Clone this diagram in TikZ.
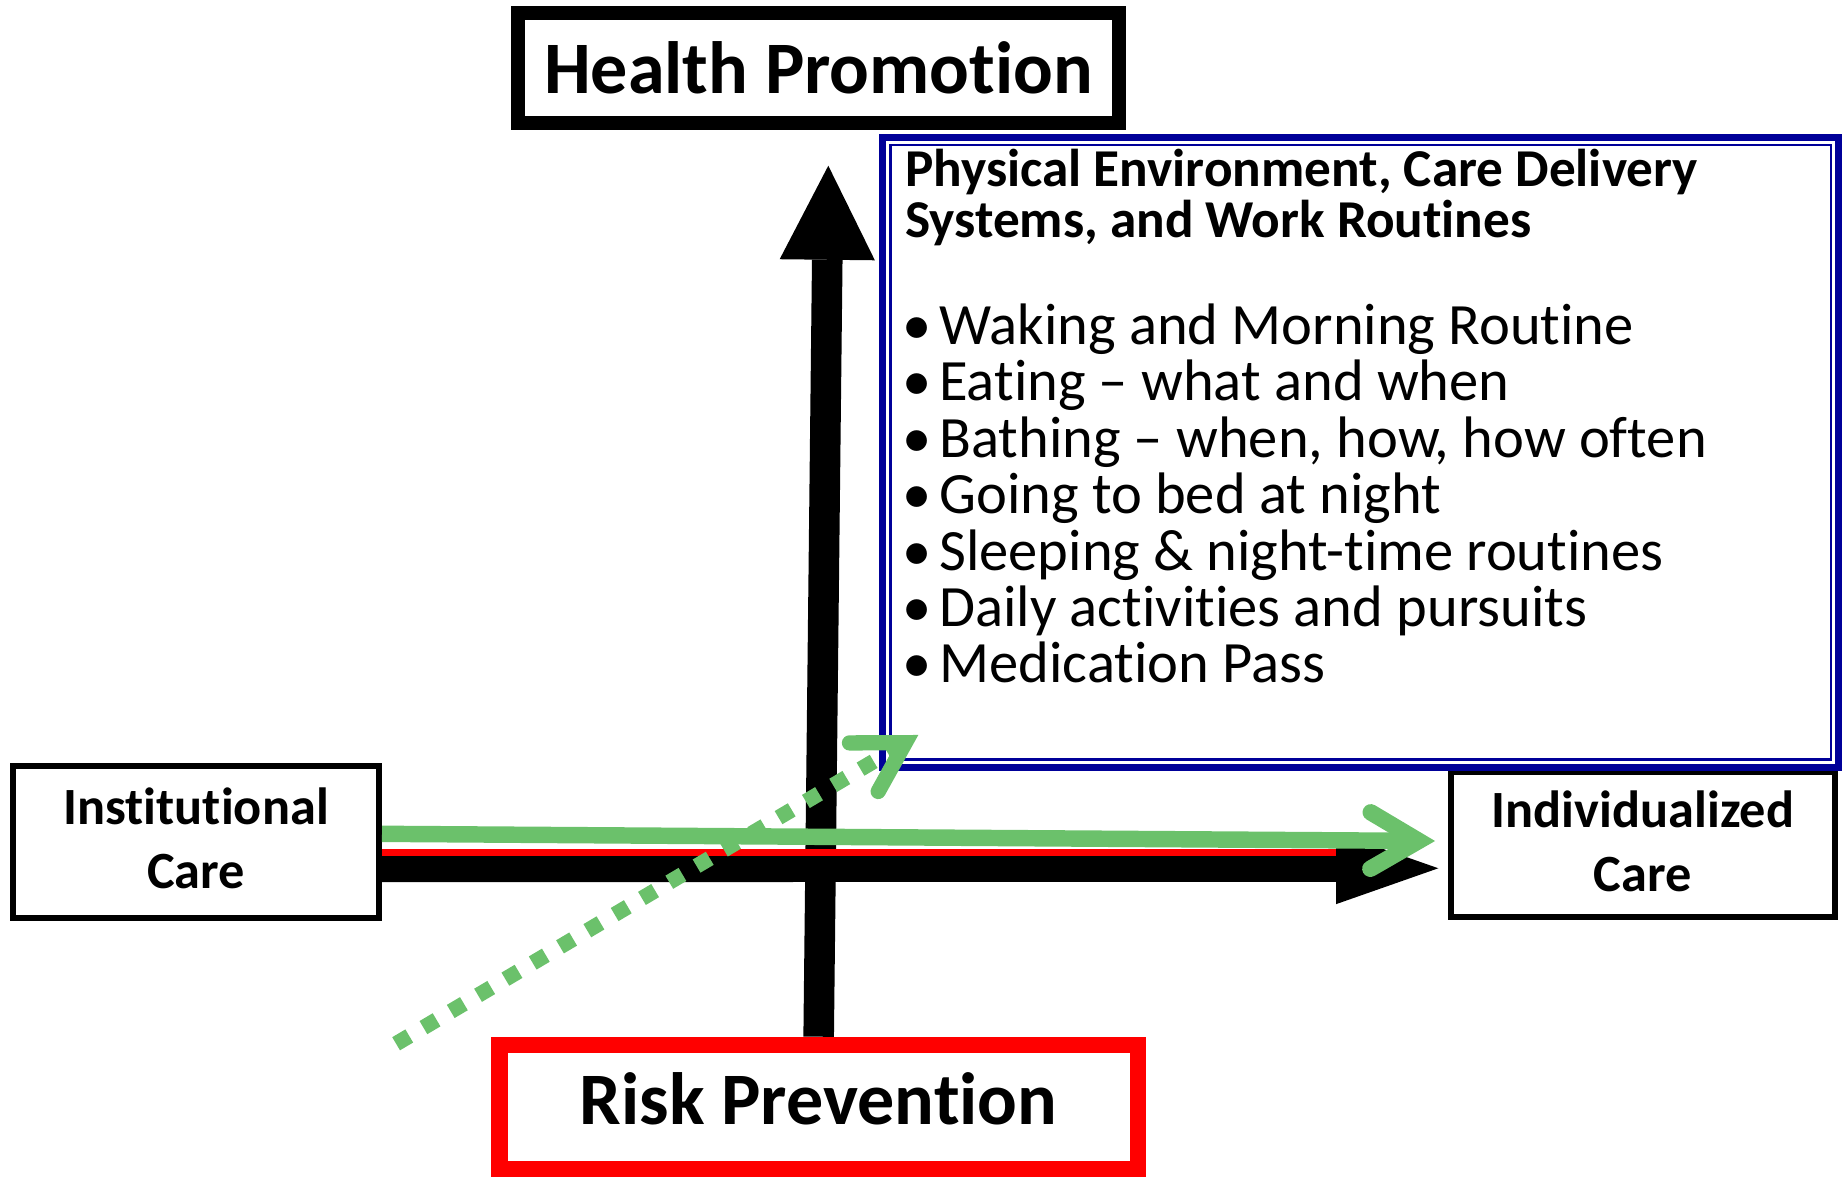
\documentclass[tikz,border=0pt]{standalone}
\usepackage{fontspec}
\setmainfont{Carlito}[Ligatures=TeX, RawFeature={-liga;-clig;-calt;-dlig}]
\usetikzlibrary{arrows.meta}
\definecolor{envblue}{RGB}{0,0,153}
\definecolor{trendgreen}{RGB}{107,193,107}
\newcommand{\envbullet}{\makebox[31pt][l]{•}}

\begin{document}
\begin{tikzpicture}[x=1pt,y=-1pt,
  axislabel/.style={draw, fill=white, line width=12pt, inner sep=0pt, font=\bfseries\fontsize{63}{70}\selectfont},
  carebox/.style={draw, fill=white, line width=5pt, inner sep=0pt, align=center, text depth=6pt, font=\bfseries\fontsize{44.5}{54.2}\selectfont},
  envhead/.style={anchor=base west, inner sep=0pt, font=\bfseries\fontsize{45.3}{45}\selectfont},
  envitem/.style={anchor=base west, inner sep=0pt, font=\fontsize{49.8}{50}\selectfont},
  vaxis/.style={line width=26pt, -{Triangle[length=80pt,width=81pt,line width=0pt]}},
  haxis/.style={line width=23pt, -{Triangle[length=87pt,width=61pt,line width=0pt]}},
  trend/.style={trendgreen, line width=14pt, -{Straight Barb[length=41pt,width=48pt,line cap=round,line join=miter]}}]
\useasboundingbox (0,0) rectangle (1568,1001);

\node[axislabel, minimum width=511pt, minimum height=94pt] (hp) at (696.5,58) {Health Promotion};
\node[axislabel, draw=red, line width=14pt, text depth=14pt, minimum width=543pt, minimum height=106pt] (rp) at (696.5,942) {Risk Prevention};
\node[carebox, minimum width=311.5pt, minimum height=129.7pt] (inst) at (166.75,716.2) {Institutional\\Care};
\node[carebox, minimum width=326.5pt, minimum height=123pt] (indiv) at (1397.75,718.5) {Individualized\\Care};
\node[draw=envblue, line width=6pt, minimum width=813pt, minimum height=536pt] (env) at (1157.5,384.6) {};
\draw[envblue, line width=2pt] ([shift={(9.5,9.5)}]env.north west) rectangle ([shift={(-9.5,-9.5)}]env.south east);

\node[envhead] (head1) at (770,158.3) {Physical Environment, Care Delivery};
\node[envhead] (head2) at (770,201.9) {Systems, and Work Routines};
\node[envitem] (item1) at (768,293) {\envbullet Waking and Morning Routine};
\node[envitem] (item2) at (768,341) {\envbullet Eating – what and when};
\node[envitem] (item3) at (768,389) {\envbullet Bathing – when, how, how often};
\node[envitem] (item4) at (768,437) {\envbullet Going to bed at night};
\node[envitem] (item5) at (768,485) {\envbullet Sleeping \& night-time routines};
\node[envitem] (item6) at (768,533) {\envbullet Daily activities and pursuits};
\node[envitem] (item7) at (768,581) {\envbullet Medication Pass};

\coordinate (vtip) at (704.7,141);
\coordinate (htip) at (1223.7,738.7);
\coordinate (redend) at (1136.4,725);
\coordinate (gtip) at (1220.9,715.5);
\coordinate (dstart) at (337,888);
\coordinate (dtip) at (781.3,625.3);

\draw[haxis] (inst.east |- 0,739) -- (htip);
\draw[vaxis] (rp.north) -- (vtip);
\draw[red, line width=6pt] (inst.east |- 0,725) -- (redend);
\draw[trend, line width=13pt, dash pattern=on 13pt off 14pt] (dstart) -- (dtip);
\draw[trend] (inst.east |- 0,709.4) -- (gtip);
\end{tikzpicture}
\end{document}
